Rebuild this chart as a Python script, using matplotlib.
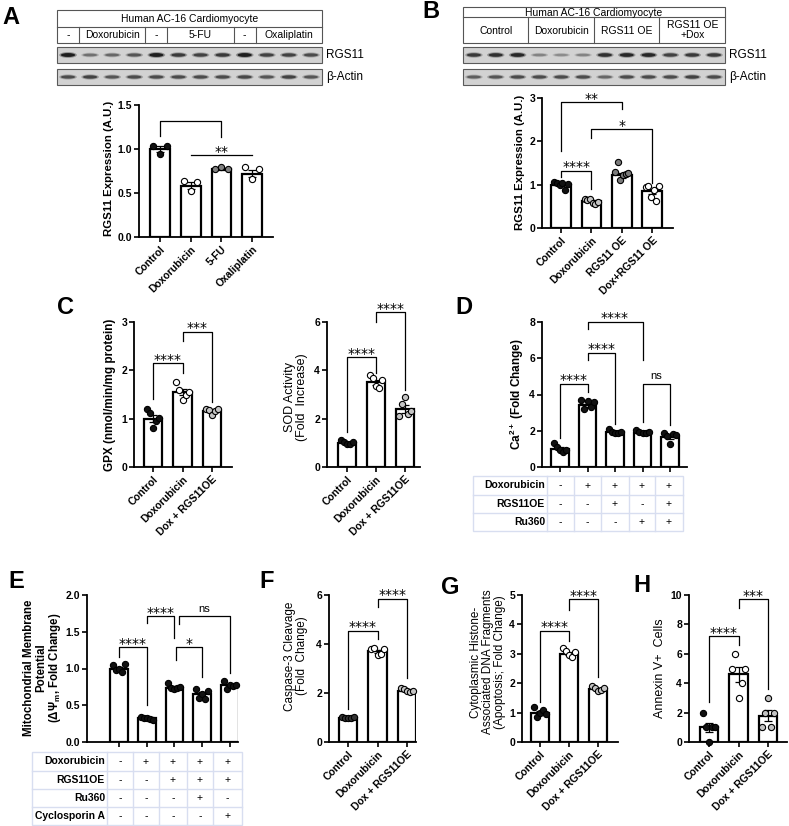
import matplotlib.pyplot as plt
from matplotlib.patches import Rectangle, Ellipse
import numpy as np

plt.rcParams['font.family'] = ['Liberation Sans', 'DejaVu Sans']
plt.rcParams['axes.linewidth'] = 1.3

W, H = 789, 826

# ---------------- data ----------------
# A
a_names = ['Control', 'Doxorubicin', '5-FU', 'Oxaliplatin']
a_mean = [1.0, 0.58, 0.77, 0.72]
a_sem = [0.03, 0.04, 0.01, 0.04]
a_pts = [[1.03, 0.94, 1.03], [0.64, 0.52, 0.62], [0.77, 0.79, 0.77], [0.79, 0.66, 0.77]]
a_fill = ['#111111', 'white', '#808080', 'white']
a_lanes = ['-', 'Doxorubicin', '-', '5-FU', '-', 'Oxaliplatin']
a_lane_n = [1, 3, 1, 3, 1, 3]
a_rgs_band = [0.95, 0.5, 0.55, 0.65, 0.95, 0.8, 0.75, 0.8, 0.95, 0.75, 0.75, 0.7]
a_actin_band = [0.7, 0.75, 0.65, 0.7, 0.7, 0.7, 0.7, 0.7, 0.72, 0.65, 0.75, 0.65]

# B
b_names = ['Control', 'Doxorubicin', 'RGS11 OE', 'Dox+RGS11 OE']
b_mean = [1.0, 0.63, 1.22, 0.85]
b_sem = [0.03, 0.02, 0.06, 0.06]
b_pts = [[1.07, 1.03, 1.0, 1.05, 0.88, 1.02],
         [0.67, 0.65, 0.68, 0.58, 0.55, 0.6],
         [1.3, 1.52, 1.1, 1.22, 1.25, 1.28],
         [0.95, 0.98, 0.72, 0.88, 0.62, 0.98]]
b_fill = ['#111111', '#c4c4c4', '#7a7a7a', 'white']
b_lanes = ['Control', 'Doxorubicin', 'RGS11 OE', 'RGS11 OE\n+Dox']
b_rgs_band = [0.8, 0.85, 0.9, 0.4, 0.35, 0.4, 0.85, 0.9, 0.9, 0.75, 0.8, 0.8]
b_actin_band = [0.6, 0.65, 0.7, 0.7, 0.7, 0.7, 0.55, 0.7, 0.7, 0.7, 0.75, 0.7]

# C
c_names = ['Control', 'Doxorubicin', 'Dox + RGS11OE']
gpx_mean = [1.0, 1.55, 1.15]
gpx_sem = [0.07, 0.07, 0.03]
gpx_pts = [[1.2, 1.12, 0.8, 0.95, 1.02], [1.75, 1.6, 1.38, 1.5, 1.55], [1.2, 1.18, 1.08, 1.15, 1.2]]
sod_mean = [1.0, 3.5, 2.4]
sod_sem = [0.03, 0.1, 0.15]
sod_pts = [[1.1, 1.05, 0.95, 0.95, 1.02], [3.8, 3.7, 3.35, 3.25, 3.6], [2.1, 2.6, 2.9, 2.2, 2.3]]
c_fill = ['#111111', 'white', '#c4c4c4']

# D
d_mean = [1.0, 3.4, 1.95, 1.9, 1.65]
d_sem = [0.08, 0.1, 0.04, 0.04, 0.1]
d_pts = [[1.3, 1.1, 0.95, 0.85, 0.95], [3.7, 3.2, 3.65, 3.3, 3.6],
         [2.1, 1.95, 1.85, 1.9, 1.95], [2.05, 1.95, 1.85, 1.9, 1.95],
         [1.85, 1.7, 1.25, 1.8, 1.75]]
d_rows = ['Doxorubicin', 'RGS11OE', 'Ru360']
d_table = [['-', '+', '+', '+', '+'], ['-', '-', '+', '-', '+'], ['-', '-', '-', '+', '+']]

# E
e_mean = [1.0, 0.32, 0.74, 0.65, 0.77]
e_sem = [0.02, 0.01, 0.02, 0.03, 0.02]
e_pts = [[1.05, 0.98, 1.0, 0.95, 1.06], [0.34, 0.33, 0.32, 0.31, 0.3],
         [0.8, 0.73, 0.72, 0.74, 0.75], [0.72, 0.6, 0.65, 0.58, 0.7],
         [0.83, 0.72, 0.78, 0.76, 0.77]]
e_rows = ['Doxorubicin', 'RGS11OE', 'Ru360', 'Cyclosporin A']
e_table = [['-', '+', '+', '+', '+'], ['-', '-', '+', '+', '+'],
           ['-', '-', '-', '+', '-'], ['-', '-', '-', '-', '+']]

# F, G, H
f_mean = [1.0, 3.7, 2.1]
f_sem = [0.01, 0.05, 0.03]
f_pts = [[1.02, 1.0, 0.98, 1.0, 1.01], [3.8, 3.82, 3.55, 3.6, 3.8], [2.2, 2.15, 2.1, 2.05, 2.08]]
g_mean = [1.0, 3.0, 1.8]
g_sem = [0.06, 0.05, 0.03]
g_pts = [[1.2, 0.85, 1.0, 1.1, 0.95], [3.2, 3.1, 2.95, 2.9, 3.05], [1.9, 1.85, 1.75, 1.78, 1.82]]
h_mean = [1.0, 4.6, 1.8]
h_sem = [0.32, 0.5, 0.37]
h_pts = [[2, 1, 0, 1, 1], [5, 6, 3, 4, 5], [1, 2, 3, 1, 2]]

# significance brackets: (i, j, top, left end, right end, label)
a_sig = [(0, 2, 1.32, 1.15, 1.14, '')]
b_sig = [(0, 2, 2.9, 1.78, 2.75, '**'), (1, 3, 2.28, 2.08, 1.05, '*'), (0, 1, 1.32, 1.18, 0.9, '****')]
gpx_sig = [(0, 1, 2.15, 1.4, 1.95, '****'), (1, 2, 2.8, 2.6, 1.35, '***')]
sod_sig = [(0, 1, 4.55, 1.45, 3.9, '****'), (1, 2, 6.4, 6.0, 3.2, '****')]
d_sig = [(0, 1, 4.6, 1.6, 4.15, '****'), (1, 2, 6.3, 5.9, 2.4, '****'),
         (1, 3, 8.0, 7.6, 5.9, '****'), (3, 4, 4.6, 2.5, 2.3, 'ns')]
e_sig = [(0, 1, 1.29, 1.15, 0.5, '****'), (1, 2, 1.71, 1.62, 1.41, '****'),
         (2.15, 4, 1.71, 1.6, 0.94, 'ns'), (2.05, 3, 1.29, 1.12, 0.89, '*')]
f_sig = [(0, 1, 4.53, 1.35, 4.2, '****'), (1, 2, 5.85, 5.5, 2.6, '****')]
g_sig = [(0, 1, 3.78, 1.35, 3.45, '****'), (1, 2, 4.86, 4.5, 2.2, '****')]
h_sig = [(0, 1, 7.2, 2.7, 6.6, '****'), (1, 2, 9.7, 9.1, 3.6, '***')]

fig = plt.figure(figsize=(W / 100, H / 100), dpi=100)

# overlay in pixel coordinates for blots, tables and letters
ov = fig.add_axes([0, 0, 1, 1])
ov.set_xlim(0, W)
ov.set_ylim(H, 0)
ov.axis('off')


def stars(ax, x, y, txt):
    if txt == 'ns':
        ax.annotate(txt, (x, y), xytext=(0, 2), textcoords='offset points', ha='center',
                    va='bottom', fontsize=8, annotation_clip=False)
    elif txt:
        ax.annotate(txt, (x, y), xytext=(0, -2.5), textcoords='offset points', ha='center',
                    va='bottom', fontsize=10, family='DejaVu Sans', annotation_clip=False)


def bar_panel(box, c0, step, ymax, yticks, ylabels, means, sems, pts, fills, names=None, sig=()):
    x0, y0, x1, y1 = box
    ax = fig.add_axes([x0 / W, 1 - y1 / H, (x1 - x0) / W, (y1 - y0) / H])
    ax.patch.set_alpha(0)
    pos = np.arange(len(means))
    ax.bar(pos, means, width=0.64, color='white', edgecolor='black', linewidth=1.6, zorder=2)
    ax.errorbar(pos, means, yerr=sems, fmt='none', ecolor='black', elinewidth=0.9,
                capsize=3, capthick=0.9, zorder=3)
    for i, p in enumerate(pts):
        off = np.linspace(-0.22, 0.22, len(p))
        ax.scatter(pos[i] + off, p, s=20, c=fills[i], edgecolors='black', linewidths=0.8,
                   zorder=4, clip_on=False)
    ax.set_xlim((x0 - c0) / step, (x1 - c0) / step)
    ax.set_ylim(0, ymax)
    ax.set_yticks(yticks)
    ax.set_yticklabels(ylabels, fontsize=7.5, fontweight='bold')
    ax.set_xticks(pos)
    if names:
        ax.set_xticklabels(names, rotation=45, ha='right', rotation_mode='anchor',
                           fontsize=7.5, fontweight='bold')
    else:
        ax.set_xticklabels([])
    ax.tick_params(width=1.2, length=3.5, pad=1.5)
    for s in ['top', 'right']:
        ax.spines[s].set_visible(False)
    for (i, j, top, yl, yr, txt) in sig:
        ax.plot([i, i, j, j], [yl, top, top, yr], color='black', lw=0.9, clip_on=False, zorder=5)
        stars(ax, (i + j) / 2, top, txt)
    return ax


def ylab(x, y, txt, bold=True, fs=8.2, ls=1.1):
    ov.text(x, y, txt, rotation=90, ha='center', va='center', fontsize=fs,
            fontweight='bold' if bold else 'normal', linespacing=ls)


def blot(x0, x1, y0, y1, bands):
    ov.add_patch(Rectangle((x0, y0), x1 - x0, y1 - y0, facecolor='#d2d2d2',
                           edgecolor='#5a5a5a', lw=0.8))
    n = len(bands)
    lw = (x1 - x0) / n
    cy = (y0 + y1) / 2
    for k, b in enumerate(bands):
        cx = x0 + lw * (k + 0.5)
        g = 0.80 - 0.72 * b
        ov.add_patch(Ellipse((cx, cy), lw * 0.8, 3 + 3 * b, facecolor=str(g), alpha=0.35, lw=0))
        ov.add_patch(Ellipse((cx, cy), lw * 0.65, 1.5 + 2.5 * b, facecolor=str(g), lw=0))


def header(x0, x1, y0, ymid, y1, title, lanes, widths, fs=7.5):
    ov.add_patch(Rectangle((x0, y0), x1 - x0, y1 - y0, facecolor='white', edgecolor='#555555', lw=0.8))
    ov.plot([x0, x1], [ymid, ymid], color='#555555', lw=0.8)
    ov.text((x0 + x1) / 2, (y0 + ymid) / 2 + 0.5, title, ha='center', va='center', fontsize=fs)
    tot = sum(widths)
    xs = x0
    for k, (lab, wd) in enumerate(zip(lanes, widths)):
        xe = xs + (x1 - x0) * wd / tot
        if k > 0:
            ov.plot([xs, xs], [ymid, y1], color='#555555', lw=0.8)
        ov.text((xs + xe) / 2, (ymid + y1) / 2 + 0.5, lab, ha='center', va='center', fontsize=fs,
                linespacing=1.0)
        xs = xe


def table(x0, xdiv, cols, ys, rows, cells):
    c = '#d8def0'
    ov.add_patch(Rectangle((x0, ys[0]), cols[-1] - x0, ys[-1] - ys[0], facecolor='none', edgecolor=c, lw=1.0))
    for yy in ys[1:-1]:
        ov.plot([x0, cols[-1]], [yy, yy], color=c, lw=1.0)
    for xx in [xdiv] + list(cols[1:-1]):
        ov.plot([xx, xx], [ys[0], ys[-1]], color=c, lw=1.0)
    for r, lab in enumerate(rows):
        cy = (ys[r] + ys[r + 1]) / 2
        ov.text(xdiv - 2, cy, lab, ha='right', va='center', fontsize=7.5, fontweight='bold')
        for k, v in enumerate(cells[r]):
            ov.text((cols[k] + cols[k + 1]) / 2, cy, v, ha='center', va='center', fontsize=7.5)


# panel letters
for lab, (x, y) in zip('ABCDEFGH', [(11, 17), (431, 12), (66, 307), (464, 307),
                                      (16, 582), (267, 582), (450, 587), (642, 586)]):
    ov.text(x, y, lab, ha='center', va='center', fontsize=17, fontweight='bold')

# ---- A ----
header(57, 322, 10, 27, 43, 'Human AC-16 Cardiomyocyte', a_lanes, a_lane_n)
blot(57, 322, 47, 63, a_rgs_band)
blot(57, 322, 69, 85, a_actin_band)
ov.text(326, 55, 'RGS11', ha='left', va='center', fontsize=8.5)
ov.text(326, 77, 'β-Actin', ha='left', va='center', fontsize=8.5)
axA = bar_panel((139, 105, 273, 237), 160, 30.7, 1.5, [0, 0.5, 1.0, 1.5],
                ['0.0', '0.5', '1.0', '1.5'], a_mean, a_sem, a_pts, a_fill, a_names, a_sig)
axA.plot([1, 3], [0.93, 0.93], color='black', lw=0.9)
stars(axA, 2, 0.93, '**')
ylab(109, 168, 'RGS11 Expression (A.U.)')

# ---- B ----
header(463, 725, 7, 17, 43, 'Human AC-16 Cardiomyocyte', b_lanes, [1, 1, 1, 1])
blot(463, 725, 47, 63, b_rgs_band)
blot(463, 725, 69, 85, b_actin_band)
ov.text(729, 55, 'RGS11', ha='left', va='center', fontsize=8.5)
ov.text(729, 77, 'β-Actin', ha='left', va='center', fontsize=8.5)
bar_panel((542, 98, 673, 228), 561, 30.4, 3, [0, 1, 2, 3], ['0', '1', '2', '3'],
          b_mean, b_sem, b_pts, b_fill, b_names, b_sig)
ylab(520, 162, 'RGS11 Expression (A.U.)')

# ---- C ----
bar_panel((134, 322, 232, 467), 153, 29.5, 3, [0, 1, 2, 3], ['0', '1', '2', '3'],
          gpx_mean, gpx_sem, gpx_pts, c_fill, c_names, gpx_sig)
ylab(110, 395, 'GPX (nmol/min/mg protein)', fs=8.5)
bar_panel((327, 322, 420, 467), 347, 29, 6, [0, 2, 4, 6], ['0', '2', '4', '6'],
          sod_mean, sod_sem, sod_pts, c_fill, c_names, sod_sig)
ylab(296, 397, 'SOD Activity\n(Fold  Increase)', bold=False, fs=9, ls=1.0)

# ---- D ----
bar_panel((542, 322, 687, 467), 560, 27.5, 8, [0, 2, 4, 6, 8], ['0', '2', '4', '6', '8'],
          d_mean, d_sem, d_pts, ['#111111'] * 5, None, d_sig)
ylab(517, 394, 'Ca$^{\\mathregular{2+}}$ (Fold Change)', fs=8.5)
table(473, 547, [547, 574, 601, 629, 655, 683], [476, 495, 513, 531], d_rows, d_table)

# ---- E ----
bar_panel((87, 595, 238, 742), 119, 27.7, 2.0, [0, 0.5, 1.0, 1.5, 2.0],
          ['0.0', '0.5', '1.0', '1.5', '2.0'], e_mean, e_sem, e_pts, ['#111111'] * 5, None, e_sig)
ylab(43, 668, 'Mitochondrial Membrane\nPotential\n(ΔΨ$_\\mathregular{m}$, Fold Change)', fs=8.3, ls=1.0)
table(32, 107, [107, 133, 159, 187, 213, 242], [752, 771, 789, 807, 825], e_rows, e_table)

# ---- F ----
bar_panel((329, 595, 416, 742), 348, 29.5, 6, [0, 2, 4, 6], ['0', '2', '4', '6'],
          f_mean, f_sem, f_pts, ['#333333', 'white', '#c4c4c4'], c_names, f_sig)
ylab(296, 656, 'Caspase-3 Cleavage\n(Fold  Change)', bold=False, fs=8.5, ls=1.0)

# ---- G ----
bar_panel((522, 595, 618, 742), 540, 29, 5, [0, 1, 2, 3, 4, 5], ['0', '1', '2', '3', '4', '5'],
          g_mean, g_sem, g_pts, c_fill, c_names, g_sig)
ylab(488, 662, 'Cytoplasmic Histone-\nAssociated DNA Fragments\n(Apoptosis; Fold Change)',
     bold=False, fs=8.5, ls=1.0)

# ---- H ----
bar_panel((689, 595, 787, 742), 709, 29.5, 10, [0, 2, 4, 6, 8, 10], ['0', '2', '4', '6', '8', '10'],
          h_mean, h_sem, h_pts, c_fill, c_names, h_sig)
ylab(660, 668, 'Annexin V+  Cells', bold=False, fs=9)

fig.savefig('out.png', dpi=100)
